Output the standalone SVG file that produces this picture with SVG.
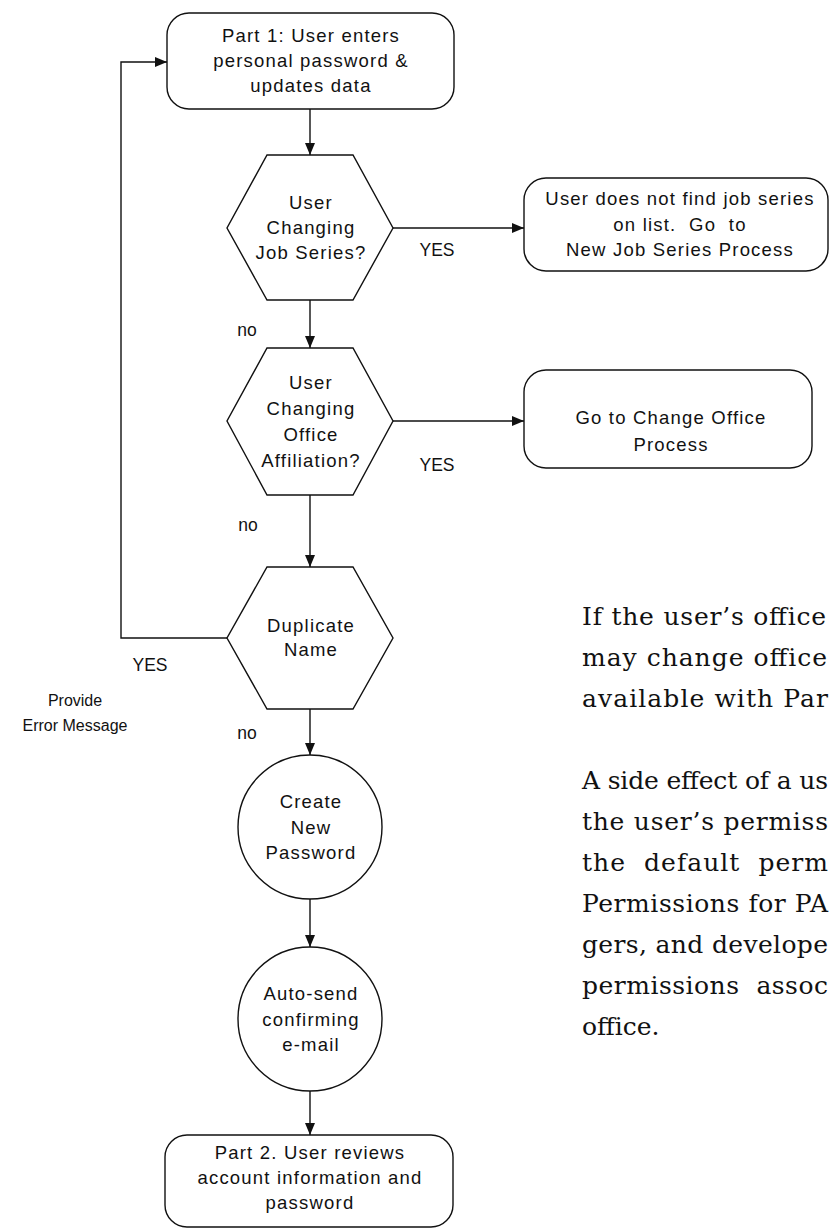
<svg xmlns="http://www.w3.org/2000/svg" width="830" height="1230" viewBox="0 0 830 1230">
<style>
.shape{fill:#fff;stroke:#111;stroke-width:1.4}
.t{font-family:"Liberation Sans",Arial,sans-serif;font-size:18.5px;letter-spacing:1.2px;fill:#111;text-anchor:middle;white-space:pre}
.lbl{font-family:"Liberation Sans",Arial,sans-serif;font-size:17.5px;fill:#111;text-anchor:middle}
.sm{font-family:"Liberation Sans",Arial,sans-serif;font-size:16px;fill:#111;text-anchor:middle}
.body{font-family:"DejaVu Serif","Liberation Serif",serif;font-size:25px;fill:#111;white-space:pre}
.c{fill:none;stroke:#111;stroke-width:1.4}
</style>
<defs>
<marker id="ah" markerWidth="12" markerHeight="10" refX="12" refY="5" orient="auto" markerUnits="userSpaceOnUse">
<path d="M0,0 L12,5 L0,10 Z" fill="#111"/>
</marker>
</defs>
<rect width="830" height="1230" fill="#fff"/>
<g id="connectors">
<line class="c" x1="310" y1="109" x2="310" y2="155" marker-end="url(#ah)"/>
<line class="c" x1="393" y1="228" x2="524" y2="228" marker-end="url(#ah)"/>
<line class="c" x1="310" y1="300" x2="310" y2="348" marker-end="url(#ah)"/>
<line class="c" x1="393" y1="421" x2="524" y2="421" marker-end="url(#ah)"/>
<line class="c" x1="310" y1="495" x2="310" y2="567" marker-end="url(#ah)"/>
<line class="c" x1="310" y1="709" x2="310" y2="755" marker-end="url(#ah)"/>
<line class="c" x1="310" y1="899" x2="310" y2="947" marker-end="url(#ah)"/>
<line class="c" x1="310" y1="1091" x2="310" y2="1135" marker-end="url(#ah)"/>
<polyline class="c" points="227,638 121,638 121,62 167,62" marker-end="url(#ah)"/>
<text class="lbl" x="437" y="256">YES</text>
<text class="lbl" x="437" y="471">YES</text>
<text class="lbl" x="247" y="336">no</text>
<text class="lbl" x="248" y="531">no</text>
<text class="lbl" x="247" y="739">no</text>
<text class="lbl" x="150" y="671">YES</text>
<text class="sm" x="75" y="706">Provide</text>
<text class="sm" x="75" y="731">Error Message</text>
</g>
<g id="part1">
<rect class="shape" x="167" y="13" width="287" height="96" rx="22"/>
<text class="t" x="311" y="42">Part 1: User enters</text>
<text class="t" x="311" y="67">personal password &amp;</text>
<text class="t" x="311" y="92">updates data</text>
</g>
<g id="jobseries">
<polygon class="shape" points="267,155 353,155 393,228 353,300 267,300 227,228"/>
<text class="t" x="311" y="209">User</text>
<text class="t" x="311" y="234">Changing</text>
<text class="t" x="311" y="259">Job Series?</text>
</g>
<g id="newjob">
<rect class="shape" x="524" y="178" width="304" height="93" rx="22"/>
<text class="t" x="680" y="205">User does not find job series</text>
<text class="t" x="680" y="231">on list.  Go  to</text>
<text class="t" x="680" y="256">New Job Series Process</text>
</g>
<g id="office">
<polygon class="shape" points="267,348 353,348 393,421 353,495 267,495 227,421"/>
<text class="t" x="311" y="389">User</text>
<text class="t" x="311" y="415">Changing</text>
<text class="t" x="311" y="441">Office</text>
<text class="t" x="311" y="467">Affiliation?</text>
</g>
<g id="changeoffice">
<rect class="shape" x="524" y="370" width="288" height="98" rx="22"/>
<text class="t" x="671" y="424">Go to Change Office</text>
<text class="t" x="671" y="451">Process</text>
</g>
<g id="duplicate">
<polygon class="shape" points="267,567 353,567 393,638 353,709 267,709 227,638"/>
<text class="t" x="311" y="632">Duplicate</text>
<text class="t" x="311" y="656">Name</text>
</g>
<g id="createpw">
<circle class="shape" cx="310" cy="827" r="72"/>
<text class="t" x="311" y="808">Create</text>
<text class="t" x="311" y="834">New</text>
<text class="t" x="311" y="859">Password</text>
</g>
<g id="autosend">
<circle class="shape" cx="310" cy="1019" r="72"/>
<text class="t" x="311" y="1000">Auto-send</text>
<text class="t" x="311" y="1026">confirming</text>
<text class="t" x="311" y="1051">e-mail</text>
</g>
<g id="part2">
<rect class="shape" x="165" y="1135" width="288" height="92" rx="22"/>
<text class="t" x="310" y="1159">Part 2. User reviews</text>
<text class="t" x="310" y="1184">account information and</text>
<text class="t" x="310" y="1209">password</text>
</g>
<g id="bodytext">
<text class="body" x="582" y="625" textLength="244" lengthAdjust="spacing">If the user’s office</text>
<text class="body" x="582" y="666" textLength="245" lengthAdjust="spacing">may change office</text>
<text class="body" x="582" y="707" textLength="246" lengthAdjust="spacing">available with Par</text>
<text class="body" x="582" y="789" textLength="246" lengthAdjust="spacing">A side effect of a us</text>
<text class="body" x="582" y="830" textLength="246" lengthAdjust="spacing">the user’s permiss</text>
<text class="body" x="582" y="871" textLength="246" lengthAdjust="spacing">the  default  perm</text>
<text class="body" x="582" y="912" textLength="246" lengthAdjust="spacing">Permissions for PA</text>
<text class="body" x="582" y="953" textLength="246" lengthAdjust="spacing">gers, and develope</text>
<text class="body" x="582" y="994" textLength="246" lengthAdjust="spacing">permissions  assoc</text>
<text class="body" x="582" y="1035">office.</text>
</g>
</svg>
